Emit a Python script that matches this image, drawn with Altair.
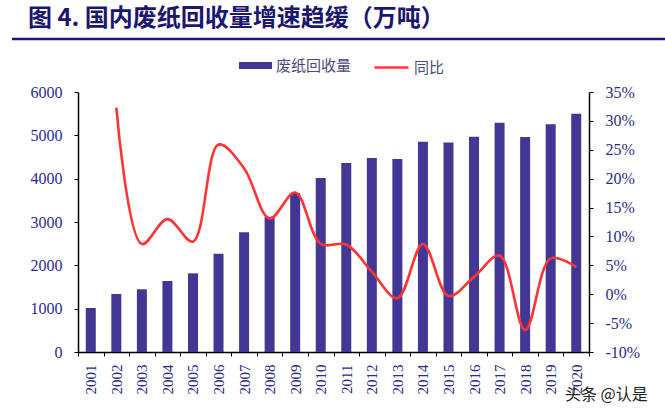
import altair as alt
import pandas as pd

years = [str(y) for y in range(2001, 2021)]
volume = [1015, 1338, 1447, 1638, 1815, 2269, 2762, 3123, 3669, 4015,
          4362, 4477, 4454, 4854, 4832, 4969, 5292, 4964, 5254, 5500]
yoy = [None, 32.3, 8.7, 13.0, 9.1, 25.9, 21.8, 13.1, 17.6, 8.7,
       8.6, 3.9, -0.7, 8.7, -0.3, 3.0, 6.7, -6.2, 6.2, 4.7]
left_ticks = [0, 1000, 2000, 3000, 4000, 5000, 6000]
right_ticks = [-10, -5, 0, 5, 10, 15, 20, 25, 30, 35]
bar_name = "废纸回收量"
line_name = "同比"
title_text = "图 4.  国内废纸回收量增速趋缓（万吨）"
watermark = "头条 @认是"

NAVY = "#2B2B8C"
BAR = "#433795"
RED = "#FF3535"
SERIF = "Liberation Serif"
CJK = "Noto Sans CJK SC"

df = pd.DataFrame({"year": years, "volume": volume, "yoy": yoy,
                   "s1": bar_name, "s2": line_name})
df_line = df.dropna(subset=["yoy"])

x_enc = alt.X("year:N", sort=years,
              scale=alt.Scale(paddingInner=0, paddingOuter=0),
              axis=alt.Axis(title=None, labelAngle=-90, tickBand="extent",
                            domainColor="black", domainWidth=1.5,
                            tickColor="black", tickSize=4, tickWidth=1,
                            labelColor=NAVY, labelFont=SERIF, labelFontSize=15,
                            labelPadding=8))

bars = alt.Chart(df).mark_bar(size=10).encode(
    x=x_enc,
    y=alt.Y("volume:Q", scale=alt.Scale(domain=[0, 6000], nice=False),
            axis=alt.Axis(title=None, values=left_ticks, grid=False, format="d",
                          domainColor="black", domainWidth=1.5,
                          tickColor="black", tickSize=4,
                          labelColor=NAVY, labelFont=SERIF, labelFontSize=16,
                          labelPadding=12)),
    color=alt.Color("s1:N", scale=alt.Scale(domain=[bar_name], range=[BAR]),
                    legend=alt.Legend(title=None, orient="none", legendX=161, legendY=-43,
                                      padding=0, symbolType="M-1,-0.21H1V0.21H-1Z",
                                      symbolSize=1089, symbolStrokeWidth=0,
                                      labelFont=CJK, labelFontSize=15,
                                      labelColor="#4a4a7a", labelOffset=4)),
)

line = alt.Chart(df_line).mark_line(interpolate="catmull-rom", strokeWidth=2.6).encode(
    x=alt.X("year:N", sort=years),
    y=alt.Y("yoy:Q", scale=alt.Scale(domain=[-10, 35], nice=False),
            axis=alt.Axis(title=None, orient="right", values=right_ticks, grid=False,
                          labelExpr="datum.value + '%'",
                          domainColor="black", domainWidth=1.5,
                          tickColor="black", tickSize=4,
                          labelColor=NAVY, labelFont=SERIF, labelFontSize=16,
                          labelPadding=12)),
    stroke=alt.Stroke("s2:N", scale=alt.Scale(domain=[line_name], range=[RED]),
                      legend=alt.Legend(title=None, orient="none", legendX=295, legendY=-43,
                                        padding=0, symbolType="stroke",
                                        symbolSize=1156, symbolStrokeWidth=2.6,
                                        labelFont=CJK, labelFontSize=15,
                                        labelColor="#4a4a7a", labelOffset=4)),
)

title = alt.Chart(pd.DataFrame({"t": [title_text]})).mark_text(
    align="left", baseline="middle", fontSize=24, fontWeight="bold",
    font=CJK, color="#1B1670").encode(
    text="t:N", x=alt.value(-50), y=alt.value(-73))

underline = alt.Chart(pd.DataFrame({"a": [0]})).mark_rule(
    color="#1A1480", strokeWidth=2.5).encode(
    x=alt.value(-66), x2=alt.value(587), y=alt.value(-53))

wm = alt.Chart(pd.DataFrame({"t": [watermark]})).mark_text(
    align="left", baseline="middle", fontSize=16, font=CJK, color="#222222").encode(
    text="t:N", x=alt.value(487), y=alt.value(303))

chart = alt.layer(bars, line, title, underline, wm).resolve_scale(
    y="independent").properties(
    width=511, height=260,
    autosize=alt.AutoSizeParams(type="none"),
    padding={"left": 78, "top": 92, "right": 76, "bottom": 63},
    background="white",
).configure_view(stroke="transparent")

chart.save("out.html", embed_options={"renderer": "svg", "actions": False})
